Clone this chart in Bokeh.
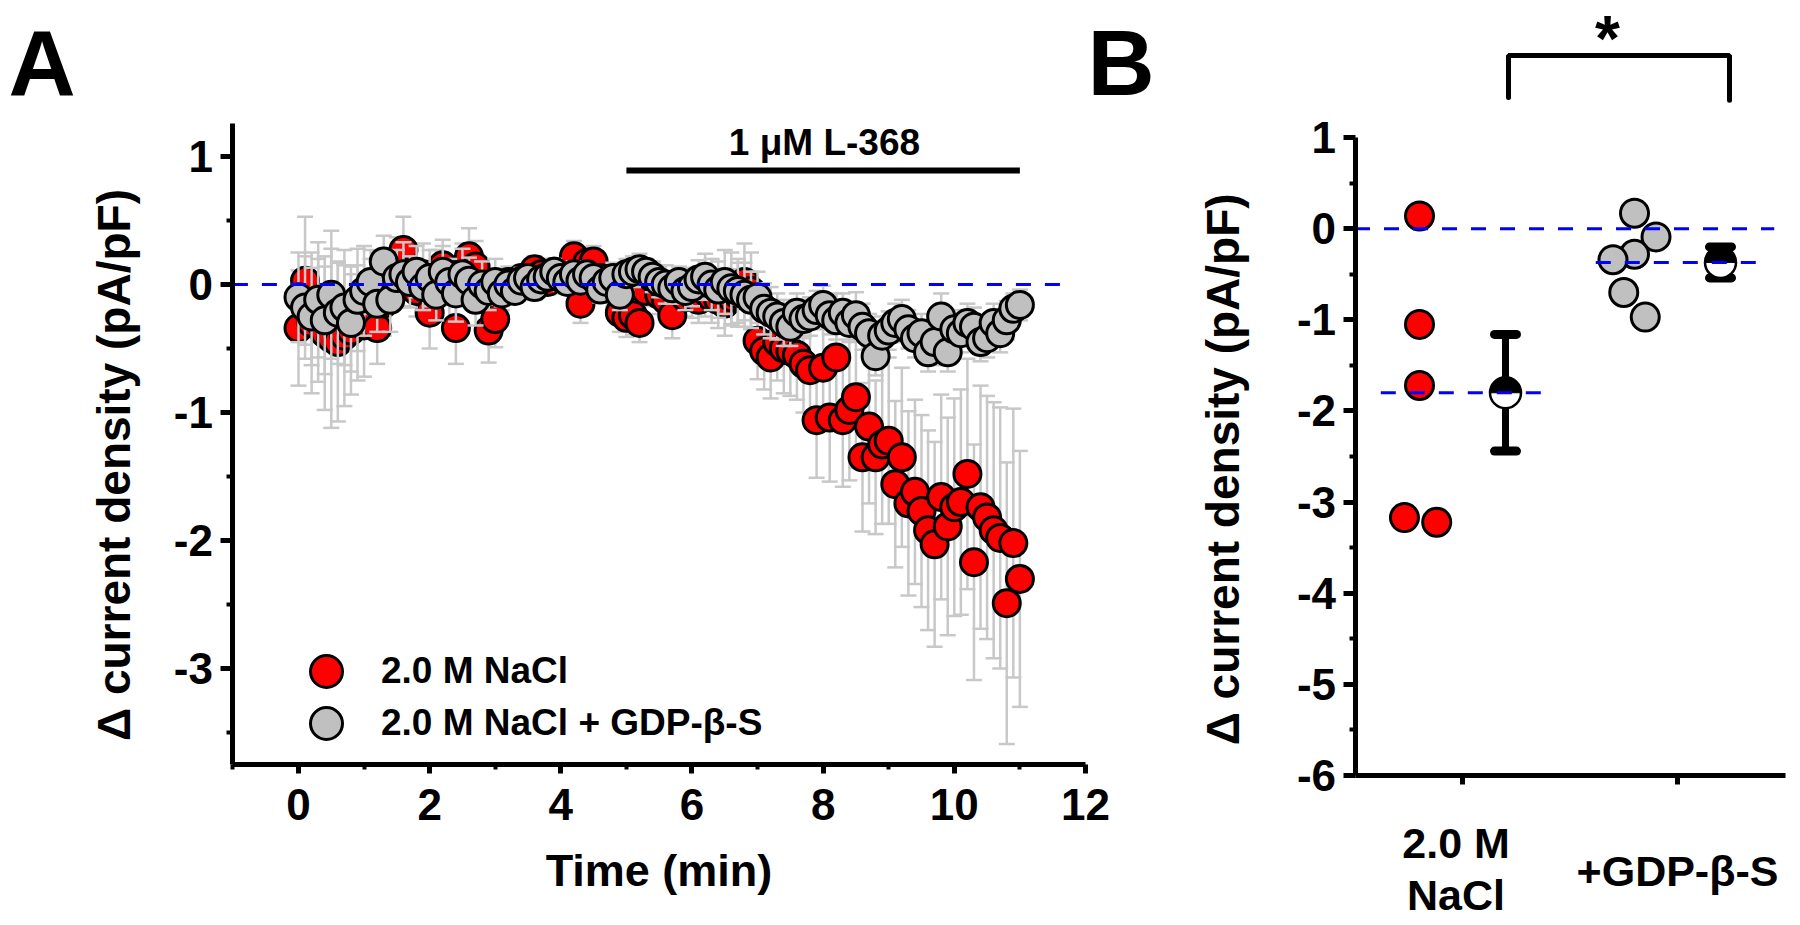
import numpy as np
from bokeh.plotting import figure
from bokeh.layouts import row
from bokeh.models import (ColumnDataSource, Label, Legend, LegendItem, FixedTicker, Range1d)
from bokeh.embed import file_html
from bokeh.resources import INLINE

# ---------------- data: panel A (time course) ----------------
time_min = [0.0, 0.1, 0.2, 0.3, 0.4, 0.5, 0.6, 0.7, 0.8, 0.9, 1.0,
            1.1, 1.2, 1.3, 1.4, 1.5, 1.6, 1.7, 1.8, 1.9, 2.0,
            2.1, 2.2, 2.3, 2.4, 2.5, 2.6, 2.7, 2.8, 2.9, 3.0,
            3.1, 3.2, 3.3, 3.4, 3.5, 3.6, 3.7, 3.8, 3.9, 4.0,
            4.1, 4.2, 4.3, 4.4, 4.5, 4.6, 4.7, 4.8, 4.9, 5.0,
            5.1, 5.2, 5.3, 5.4, 5.5, 5.6, 5.7, 5.8, 5.9, 6.0,
            6.1, 6.2, 6.3, 6.4, 6.5, 6.6, 6.7, 6.8, 6.9, 7.0,
            7.1, 7.2, 7.3, 7.4, 7.5, 7.6, 7.7, 7.8, 7.9, 8.0,
            8.1, 8.2, 8.3, 8.4, 8.5, 8.6, 8.7, 8.8, 8.9, 9.0,
            9.1, 9.2, 9.3, 9.4, 9.5, 9.6, 9.7, 9.8, 9.9, 10.0,
            10.1, 10.2, 10.3, 10.4, 10.5, 10.6, 10.7, 10.8, 10.9, 11.0]

nacl_mean = [-0.34, 0.03, -0.30, -0.28, -0.38, -0.42, -0.45, -0.40, -0.36, -0.30, -0.32,
             -0.10, -0.34, -0.15, 0.05, 0.12, 0.27, 0.10, -0.05, 0.08, -0.22,
             0.05, 0.15, -0.05, -0.34, 0.10, 0.22, 0.14, -0.10, -0.36, -0.27,
             -0.05, 0.02, -0.02, 0.05, 0.03, 0.12, 0.08, 0.02, 0.10, 0.05,
             0.08, 0.22, -0.15, 0.17, 0.18, 0.05, 0.02, -0.05, -0.22, -0.26,
             -0.24, -0.30, -0.05, 0.05, -0.08, -0.12, -0.24, -0.05, -0.10, -0.08,
             -0.12, -0.05, -0.10, -0.12, -0.15, -0.10, -0.08, 0.02, -0.05, -0.44,
             -0.52, -0.57, -0.45, -0.50, -0.52, -0.55, -0.62, -0.67, -1.06, -0.65,
             -1.04, -0.57, -1.06, -0.98, -0.88, -1.35, -1.11, -1.35, -1.25, -1.22,
             -1.56, -1.35, -1.71, -1.62, -1.77, -1.92, -2.03, -1.66, -1.89, -1.74,
             -1.70, -1.48, -2.17, -1.74, -1.82, -1.92, -1.98, -2.49, -2.02, -2.30]

nacl_sem = [0.45, 0.50, 0.55, 0.48, 0.60, 0.70, 0.62, 0.55, 0.50, 0.45, 0.40,
            0.30, 0.28, 0.25, 0.22, 0.25, 0.26, 0.22, 0.20, 0.24, 0.28,
            0.22, 0.20, 0.25, 0.28, 0.22, 0.22, 0.20, 0.25, 0.25, 0.22,
            0.15, 0.12, 0.12, 0.10, 0.12, 0.10, 0.12, 0.10, 0.10, 0.12,
            0.10, 0.12, 0.15, 0.12, 0.12, 0.10, 0.10, 0.12, 0.15, 0.15,
            0.15, 0.15, 0.12, 0.12, 0.15, 0.15, 0.18, 0.15, 0.15, 0.18,
            0.18, 0.20, 0.20, 0.22, 0.25, 0.22, 0.25, 0.30, 0.30, 0.30,
            0.30, 0.32, 0.30, 0.35, 0.35, 0.35, 0.38, 0.40, 0.45, 0.45,
            0.50, 0.50, 0.52, 0.55, 0.55, 0.58, 0.60, 0.60, 0.62, 0.65,
            0.65, 0.70, 0.72, 0.72, 0.75, 0.78, 0.80, 0.80, 0.85, 0.85,
            0.88, 0.90, 0.92, 0.95, 0.95, 1.00, 1.02, 1.10, 1.05, 1.00]

gdp_mean = [-0.10, -0.18, -0.25, -0.12, -0.28, -0.08, -0.22, -0.18, -0.30, -0.12, -0.05,
            0.02, -0.15, 0.18, -0.12, 0.05, 0.08, 0.02, 0.10, -0.02, 0.05,
            -0.08, 0.10, 0.02, -0.07, 0.08, 0.03, -0.12, 0.00, -0.05, 0.02,
            -0.07, 0.00, -0.05, 0.03, 0.05, -0.02, 0.04, 0.06, 0.10, 0.05,
            0.02, 0.08, 0.03, 0.08, 0.05, -0.04, 0.02, 0.05, -0.08, 0.08,
            0.10, 0.12, 0.10, 0.06, 0.02, 0.00, -0.03, 0.02, -0.05, -0.02,
            0.04, 0.06, 0.00, -0.04, 0.02, -0.03, -0.05, -0.08, -0.12, -0.10,
            -0.19, -0.22, -0.25, -0.30, -0.33, -0.22, -0.27, -0.25, -0.20, -0.16,
            -0.24, -0.28, -0.22, -0.30, -0.24, -0.33, -0.38, -0.56, -0.40, -0.36,
            -0.30, -0.27, -0.35, -0.42, -0.38, -0.53, -0.45, -0.25, -0.53, -0.35,
            -0.38, -0.30, -0.33, -0.45, -0.42, -0.30, -0.38, -0.28, -0.19, -0.16]

gdp_sem = [0.35, 0.40, 0.38, 0.45, 0.42, 0.50, 0.40, 0.45, 0.38, 0.40, 0.35,
           0.25, 0.22, 0.20, 0.25, 0.22, 0.25, 0.20, 0.20, 0.18, 0.22,
           0.20, 0.20, 0.18, 0.22, 0.20, 0.18, 0.20, 0.18, 0.15, 0.18,
           0.10, 0.10, 0.08, 0.10, 0.08, 0.10, 0.08, 0.08, 0.10, 0.10,
           0.08, 0.10, 0.10, 0.08, 0.08, 0.10, 0.10, 0.12, 0.12, 0.12,
           0.12, 0.12, 0.10, 0.12, 0.12, 0.15, 0.12, 0.12, 0.15, 0.15,
           0.15, 0.18, 0.20, 0.22, 0.25, 0.28, 0.25, 0.25, 0.22, 0.20,
           0.20, 0.20, 0.18, 0.18, 0.15, 0.15, 0.15, 0.15, 0.15, 0.15,
           0.15, 0.15, 0.15, 0.15, 0.18, 0.18, 0.15, 0.15, 0.15, 0.15,
           0.15, 0.15, 0.15, 0.15, 0.15, 0.15, 0.18, 0.18, 0.15, 0.15,
           0.15, 0.15, 0.15, 0.15, 0.15, 0.15, 0.15, 0.15, 0.12, 0.12]

drug_window = [5.0, 11.0]          # 1 uM L-368 application (min)
a_xticks = [0, 2, 4, 6, 8, 10, 12]
a_xminor = [-1, 1, 3, 5, 7, 9, 11]
a_yticks = [-3, -2, -1, 0, 1]
a_yminor = [-3.5, -2.5, -1.5, -0.5, 0.5]

# ---------------- data: panel B (individual cells) ----------------
group_labels = ["2.0 M\nNaCl", "+GDP-β-S"]
group_pos = [1, 2]
nacl_cells = [0.14, -1.05, -1.72, -3.17, -3.22]
nacl_jitter = [0.80, 0.80, 0.80, 0.73, 0.88]
gdp_cells = [0.17, -0.09, -0.28, -0.34, -0.70, -0.97]
gdp_jitter = [1.80, 1.90, 1.80, 1.70, 1.75, 1.85]
group_mean = [-1.80, -0.37]
group_sem = [0.64, 0.17]
mean_pos = [1.20, 2.20]
b_yticks = [-6, -5, -4, -3, -2, -1, 0, 1]
b_yminor = [-5.5, -4.5, -3.5, -2.5, -1.5, -0.5, 0.5]

FONT = "Liberation Sans"
RED = "#ff0000"
GREY = "#c0c0c0"
BAR_GREY = "#c8c8c8"
BLUE = "#0000ff"
DASH = "15 14"

# canvas geometry (figure sizes and pixel scale of the two panels)
A_W, A_H = 1160, 920
A_X0, A_PXX = 298.0, 65.58      # px of t=0, px per minute
A_Y0, A_PXY = 284.0, 128.0      # px of y=0, px per pA/pF
B_W, B_H = 640, 920
B_X1, B_PXX = 302.0, 215.0      # px of group 1 (in B canvas), px per group
B_Y0, B_PXY = 228.2, 91.14


def style_axis(ax, tick_out=12, minor_out=6, standoff=8):
    ax.axis_line_width = 5
    ax.axis_line_color = "black"
    ax.major_tick_line_width = 5
    ax.major_tick_in = 0
    ax.major_tick_out = tick_out
    ax.minor_tick_line_width = 4
    ax.minor_tick_in = 0
    ax.minor_tick_out = minor_out
    ax.major_label_standoff = standoff
    ax.major_label_text_font = FONT
    ax.major_label_text_font_style = "bold"
    ax.major_label_text_font_size = "44px"
    ax.major_label_text_color = "black"
    ax.axis_label_text_font = FONT
    ax.axis_label_text_font_style = "bold"
    ax.axis_label_text_font_size = "45px"
    ax.axis_label_text_color = "black"


def txt(x, y, text, size, align="center", baseline="middle", angle=0.0, lh=1.2):
    return Label(x=x, y=y, text=text, text_align=align, text_baseline=baseline, angle=angle,
                 text_font=FONT, text_font_style="bold", text_font_size=size,
                 text_color="black", text_line_height=lh)


# ================= Panel A =================
pA = figure(width=A_W, height=A_H,
            x_range=Range1d(-A_X0 / A_PXX, (A_W - A_X0) / A_PXX),
            y_range=Range1d((A_Y0 - A_H) / A_PXY, A_Y0 / A_PXY),
            output_backend="svg", toolbar_location=None,
            min_border_left=0, min_border_right=0, min_border_top=0, min_border_bottom=0)
pA.grid.visible = False
pA.outline_line_color = None
pA.background_fill_color = "white"
pA.border_fill_color = "white"

xa, ya = pA.xaxis[0], pA.yaxis[0]
style_axis(xa, tick_out=9, minor_out=5, standoff=15)
style_axis(ya, tick_out=12, minor_out=6, standoff=8)
xa.ticker = FixedTicker(ticks=a_xticks, minor_ticks=a_xminor)
ya.ticker = FixedTicker(ticks=a_yticks, minor_ticks=a_yminor)
ya.major_label_overrides = {v: str(v) for v in a_yticks}
xa.fixed_location = -3.75
xa.bounds = (-1, 12)
ya.fixed_location = -1
ya.bounds = (-3.75, 1.26)
xa.axis_label = "Time (min)"
xa.axis_label_standoff = 22

t = np.array(time_min)
nm, ns = np.array(nacl_mean), np.array(nacl_sem)
gm, gs = np.array(gdp_mean), np.array(gdp_sem)
src_n = ColumnDataSource(dict(t=t, y=nm, lo=nm - ns, hi=nm + ns))
src_g = ColumnDataSource(dict(t=t, y=gm, lo=gm - gs, hi=gm + gs))

# red series: error bars then points
pA.segment(x0="t", y0="lo", x1="t", y1="hi", source=src_n, line_color=BAR_GREY, line_width=2.5)
pA.scatter(x="t", y="lo", source=src_n, marker="dash", size=16, line_color=BAR_GREY, line_width=2.5)
pA.scatter(x="t", y="hi", source=src_n, marker="dash", size=16, line_color=BAR_GREY, line_width=2.5)
r_red = pA.scatter(x="t", y="y", source=src_n, marker="circle", size=27,
                   fill_color=RED, line_color="black", line_width=3)
# grey series
pA.segment(x0="t", y0="lo", x1="t", y1="hi", source=src_g, line_color=BAR_GREY, line_width=2.5)
pA.scatter(x="t", y="lo", source=src_g, marker="dash", size=16, line_color=BAR_GREY, line_width=2.5)
pA.scatter(x="t", y="hi", source=src_g, marker="dash", size=16, line_color=BAR_GREY, line_width=2.5)
r_grey = pA.scatter(x="t", y="y", source=src_g, marker="circle", size=27,
                    fill_color=GREY, line_color="black", line_width=3)

# zero line
pA.line(x=[-1, 11.8], y=[0, 0], line_color=BLUE, line_width=3, line_dash=DASH)

# drug application bar
pA.line(x=drug_window, y=[0.89, 0.89], line_color="black", line_width=6)
pA.add_layout(txt(8.02, 1.113, "1 μM L-368", "37px"))

# y axis title, panel letters
pA.add_layout(txt(-2.806, -1.41, "Δ current density (pA/pF)", "46px", angle=np.pi / 2))
pA.add_layout(txt(-4.422, 1.734, "A", "93px", align="left"))
pA.add_layout(txt(12.03, 1.734, "B", "93px", align="left"))

common_leg = dict(glyph_width=80, glyph_height=80, label_standoff=15, padding=0, margin=0,
                  border_line_color=None, background_fill_alpha=0, label_text_font=FONT,
                  label_text_font_style="bold", label_text_font_size="37px",
                  label_text_color="black")
pA.add_layout(Legend(items=[LegendItem(label="2.0 M NaCl", renderers=[r_red])],
                     location=(286, 209), **common_leg))
pA.add_layout(Legend(items=[LegendItem(label="2.0 M NaCl + GDP-β-S", renderers=[r_grey])],
                     location=(286, 157), **common_leg))

# ================= Panel B =================
pB = figure(width=B_W, height=B_H,
            x_range=Range1d(1 - B_X1 / B_PXX, 1 + (B_W - B_X1) / B_PXX),
            y_range=Range1d((B_Y0 - B_H) / B_PXY, B_Y0 / B_PXY),
            output_backend="svg", toolbar_location=None,
            min_border_left=0, min_border_right=0, min_border_top=0, min_border_bottom=0)
pB.grid.visible = False
pB.outline_line_color = None
pB.background_fill_color = "white"
pB.border_fill_color = "white"

xb, yb = pB.xaxis[0], pB.yaxis[0]
style_axis(xb, tick_out=9, minor_out=9, standoff=10)
style_axis(yb, tick_out=12, minor_out=6, standoff=7)
xb.minor_tick_line_width = 5
xb.ticker = FixedTicker(ticks=[], minor_ticks=group_pos)   # category tick marks, labels below
yb.ticker = FixedTicker(ticks=b_yticks, minor_ticks=b_yminor)
yb.major_label_overrides = {v: str(v) for v in b_yticks}
xb.fixed_location = -6
xb.bounds = (0.5, 2.5)
yb.fixed_location = 0.5
yb.bounds = (-6, 1)

for gx, lab in zip(group_pos, group_labels):
    if "\n" in lab:
        pB.add_layout(txt(gx - 0.03, -6.482, lab, "43px", baseline="top", lh=1.08))
    else:
        pB.add_layout(txt(gx, -7.042, lab, "43px"))

pB.add_layout(txt(-0.116, -2.64, "Δ current density (pA/pF)", "46px", angle=np.pi / 2))

# individual cells
pB.scatter(x=nacl_jitter, y=nacl_cells, marker="circle", size=28, fill_color=RED,
           line_color="black", line_width=3)
pB.scatter(x=gdp_jitter, y=gdp_cells, marker="circle", size=28, fill_color=GREY,
           line_color="black", line_width=3)

# mean +/- SEM (half-filled markers)
gmn, gse = np.array(group_mean), np.array(group_sem)
src_m = ColumnDataSource(dict(x=mean_pos, y=gmn, lo=gmn - gse, hi=gmn + gse))
pB.segment(x0="x", y0="lo", x1="x", y1="hi", source=src_m, line_color="black", line_width=7)
pB.scatter(x="x", y="lo", source=src_m, marker="dash", size=22, line_color="black",
           line_width=9, line_cap="round")
pB.scatter(x="x", y="hi", source=src_m, marker="dash", size=22, line_color="black",
           line_width=9, line_cap="round")
pB.scatter(x="x", y="y", source=src_m, marker="circle", size=31, fill_color="white",
           line_color="black", line_width=2.5)
pB.wedge(x="x", y="y", source=src_m, radius=15.5, radius_units="screen", start_angle=0,
         end_angle=np.pi, fill_color="black", line_color="black", line_width=1)

# reference lines
pB.line(x=[0.5, 2.45], y=[0, 0], line_color=BLUE, line_width=3, line_dash=DASH)
for gx, m in zip(group_pos, group_mean):
    pB.line(x=[gx - 0.38, gx + 0.39], y=[m, m], line_color=BLUE, line_width=3, line_dash=DASH)

# significance bracket
pB.line(x=[1.214, 1.214, 2.242, 2.242], y=[1.44, 1.90, 1.90, 1.41], line_color="black",
        line_width=5, line_cap="round")
pB.add_layout(txt(1.674, 2.48, "*", "64px", baseline="top"))

layout = row(pA, pB)
open("out.html", "w").write(file_html(layout, INLINE))
